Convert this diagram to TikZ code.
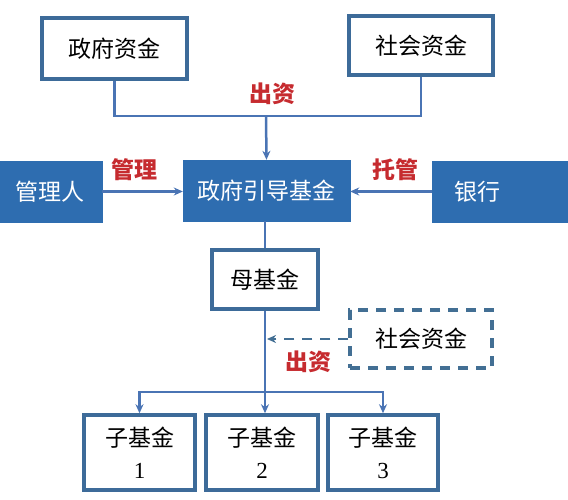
\documentclass[tikz,border=0pt]{standalone}
\usepackage{fontspec}
\setmainfont{Liberation Serif}
\newfontfamily\cjk{Noto Sans CJK SC}
\usepackage{tikz}
\usetikzlibrary{arrows.meta,positioning}
\definecolor{fillblue}{HTML}{2E6DB0}
\definecolor{edgeblue}{HTML}{3D6B99}
\definecolor{lineblue}{HTML}{4A74B4}
\definecolor{dashblue}{HTML}{436F94}
\definecolor{redlbl}{HTML}{C62B2F}
\begin{document}
\begin{tikzpicture}[x=1pt, y=-1pt,
		font=\cjk\fontsize{23}{32}\selectfont,
		whitebox/.style={draw=edgeblue, line width=3.5pt, fill=white, inner sep=0pt, align=center},
		bluebox/.style={draw=fillblue, fill=fillblue, text=white, inner sep=0pt},
		dashbox/.style={draw=dashblue, line width=3.5pt, dash pattern=on 10pt off 8pt, inner sep=0pt},
		conn/.style={lineblue, line width=2.5pt},
		arr/.style={-{Stealth[length=9pt,width=8pt]}, lineblue, line width=2.5pt},
		lbl/.style={text=redlbl, font=\cjk\bfseries\fontsize{23}{28}\selectfont}]
				\useasboundingbox (0,0) rectangle (568,500);
				% top sources
				\node[whitebox, minimum width=145pt, minimum height=61pt] (gov) at (114.5,48.5) {政府资金};
				\node[whitebox, minimum width=144pt, minimum height=59pt] (soc) at (421,45.5) {社会资金};
				% middle row
				\node[bluebox, minimum width=167pt, minimum height=61pt] (guide) at (266.5,190.5) {政府引导基金};
				\node[bluebox, minimum width=103pt, minimum height=61pt] (mgr) at (50.5,191.5) {管理人};
				\node[bluebox, minimum width=137pt, minimum height=61pt] (bank) at (501,191.5) {\hspace*{-48pt}银行};
				% mother fund and children
				\node[whitebox, minimum width=106pt, minimum height=59pt] (mother) at (265,279.5) {母基金};
				\node[dashbox, minimum width=142pt, minimum height=58pt] (soc2) at (421,339) {社会资金};
				\node[whitebox, minimum width=111pt, minimum height=75pt] (sub1) at (139.5,452.5) {子基金\\{\rmfamily 1}};
				\node[whitebox, minimum width=112pt, minimum height=75pt] (sub2) at (262,452.5) {子基金\\{\rmfamily 2}};
				\node[whitebox, minimum width=110pt, minimum height=75pt] (sub3) at (383,452.5) {子基金\\{\rmfamily 3}};
				\coordinate (join) at (266,116);
				\coordinate (split) at (265,392);
				\coordinate (tap) at (267,339);
				% connectors
				\draw[conn] (gov.south) |- (join);
				\draw[conn] (soc.south) |- (join);
				\draw[arr] (join) -- (guide.north);
				\draw[arr] (mgr.east) -- (mgr.east -| guide.west);
				\draw[arr] (bank.west) -- (bank.west -| guide.east);
				\draw[conn] (guide.south -| mother.north) -- (mother.north);
				\draw[conn] (mother.south) -- (split);
				\draw[arr] (split) -| (sub1.north);
				\draw[arr] (split) -- (sub2.north -| split);
				\draw[arr] (split) -| (sub3.north);
				\draw[arr, dashblue, dash pattern=on 10pt off 8pt] (soc2.west) -- (tap);
				% labels
				\node[lbl] (l1) at (272,94) {出资};
				\node[lbl] (l2) at (134,170) {管理};
				\node[lbl] (l3) at (395,170) {托管};
				\node[lbl] (l4) at (308,362) {出资};
			\end{tikzpicture}
\end{document}
